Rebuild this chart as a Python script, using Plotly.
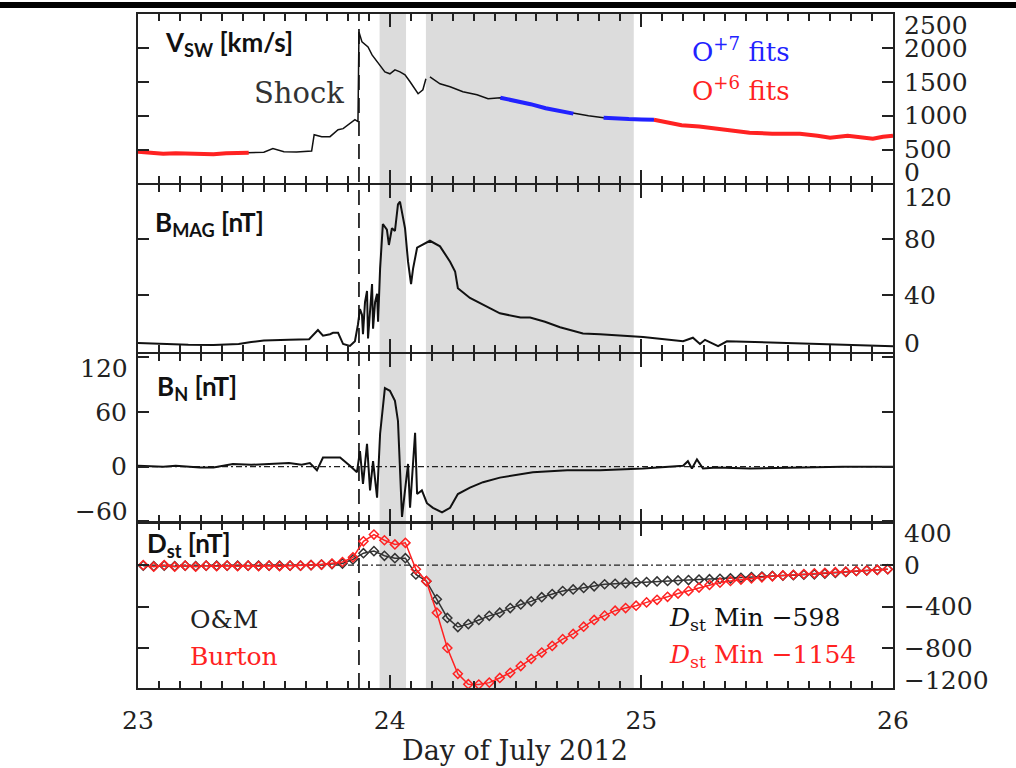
import plotly.graph_objects as go

# ---------------- data ----------------
v_time = [23.00, 23.05, 23.10, 23.15, 23.20, 23.25, 23.30, 23.35, 23.40, 23.44, 23.50, 23.536, 23.58, 23.63,
          23.68, 23.69, 23.70, 23.73, 23.763, 23.795, 23.815, 23.842, 23.862, 23.874, 23.878, 23.890, 23.902,
          23.914, 23.930, 23.942, 23.962, 23.981, 24.001, 24.021, 24.041, 24.061, 24.081, 24.093, 24.113,
          24.132, 24.144, 24.152, 24.160, 24.200, 24.240, 24.291, 24.347, 24.391, 24.44, 24.50, 24.56, 24.62,
          24.68, 24.73, 24.79, 24.85, 24.90, 24.95, 25.00, 25.05, 25.10, 25.16, 25.23, 25.30, 25.36, 25.43,
          25.52, 25.63, 25.70, 25.75, 25.82, 25.87, 25.92, 25.96, 26.00]
v_speed = [470, 460, 440, 445, 440, 445, 430, 445, 450, 455, 460, 515, 470, 465,
           470, 480, 720, 690, 691, 794, 809, 882, 941, 912, 2235, 2088, 2044,
           2015, 1897, 1838, 1750, 1647, 1618, 1676, 1647, 1603, 1500, 1426, 1324,
           1382, 1544, None, 1574, 1470, 1426, 1353, 1309, 1250, 1265, 1220, 1170, 1110,
           1070, 1030, 1000, 970, 955, 950, 945, 940, 900, 860, 840, 810, 790, 750,
           735, 735, 705, 675, 705, 680, 660, 690, 705]
o6_fit_ranges = [(23.00, 23.44), (25.05, 26.00)]
o7_fit_ranges = [(24.41, 24.73), (24.85, 25.05)]

b_time = [23.00, 23.10, 23.20, 23.30, 23.40, 23.45, 23.50, 23.60, 23.68, 23.715, 23.735, 23.763, 23.775, 23.795,
          23.815, 23.842, 23.862, 23.874, 23.882, 23.890, 23.894, 23.902, 23.910, 23.914, 23.922, 23.930, 23.934,
          23.942, 23.950, 23.954, 23.962, 23.973, 23.989, 23.997, 24.009, 24.021, 24.033, 24.041, 24.061, 24.073,
          24.085, 24.093, 24.109, 24.128, 24.160, 24.200, 24.240, 24.260, 24.271, 24.319, 24.399, 24.438, 24.52,
          24.558, 24.617, 24.677, 24.768, 24.836, 25.007, 25.166, 25.205, 25.233, 25.253, 25.305, 25.340, 25.45,
          25.630, 25.829, 26.00]
b_mag = [5.7, 5.0, 4.5, 4.3, 5.0, 6.5, 7.5, 8.0, 8.5, 15, 11, 12, 13, 13,
         5, 3.6, 7, 19, 30, 26, 12, 35, 43, 9, 30, 48, 16,
         35, 41, 21, 59, 91, 87, 76, 88, 86, 105, 107, 88, 64,
         48, 59, 74, 76, 79, 75, 64, 57, 45, 38, 31, 27, 24,
         24, 21, 17, 12.5, 12, 10, 7, 9.5, 5, 8, 3.5, 7, 6.5,
         5.7, 4.5, 3.5]

bn_time = [23.00, 23.10, 23.15, 23.246, 23.30, 23.377, 23.45, 23.513, 23.55, 23.60, 23.65, 23.683, 23.711,
           23.735, 23.763, 23.803, 23.842, 23.870, 23.882, 23.894, 23.910, 23.922, 23.934, 23.950, 23.962,
           23.973, 23.981, 24.001, 24.021, 24.033, 24.041, 24.049, 24.061, 24.073, 24.081, 24.101, 24.109,
           24.128, 24.148, 24.172, 24.208, 24.240, 24.271, 24.319, 24.371, 24.438, 24.569, 24.705, 24.836,
           25.007, 25.166, 25.185, 25.201, 25.221, 25.245, 25.30, 25.432, 25.630, 25.80, 26.00]
b_n = [1, 0, 1, -1, -1, 3, 2, 3, 3, 4, 2, 4, -4,
       10, 10, 10, 1, -6, 17, -19, 25, -26, 6, -34, 36,
       61, 86, 83, 72, 50, -12, -55, -26, 3, -45, 37, -30,
       -26, -40, -45, -50, -45, -30, -23, -17, -12, -6, -4, -4,
       -2, 1, 6, -2, 8, -2, -1, -2, -1, 0, 0]

# hourly Dst values (centred on the half hour), 23 July 00:30 .. 25 July 23:30
dst_time = [23 + (k + 0.5) / 24 for k in range(72)]
dst_om = [-5, -10, -5, -10, -5, -10, -5, -5, -5, -5, -5, -5, -5, -5, -5, -5, 0, 5,
          10, 15, 55, 115, 135, 90, 67, 67, -90, -155, -330, -510, -598, -570,
          -530, -490, -460, -415, -380, -350, -310, -280, -250, -235, -220, -205,
          -185, -180, -174, -168, -163, -158, -153, -148, -144, -140, -136, -132,
          -128, -122, -116, -111, -105, -101, -97, -93, -89, -82, -75, -66, -57, -50, -45, -40]
dst_burton = [0, -15, 0, -15, -5, -15, -5, -10, -5, -10, -5, -10, -5, -10, -5, -5, 0, 5,
              15, 30, 75, 230, 295, 240, 200, 215, -40, -155, -460, -800, -1050, -1150,
              -1154, -1135, -1090, -1040, -975, -905, -845, -780, -715, -665, -595, -530,
              -488, -440, -415, -392, -360, -335, -306, -275, -249, -217, -191, -169,
              -153, -140, -128, -118, -108, -100, -93, -86, -80, -74, -68, -63, -57, -52, -47, -40]

shade_start = [23.96, 24.144]
shade_end = [24.065, 24.97]
shock_time = 23.878

assert len(v_time) == len(v_speed)
assert len(b_time) == len(b_mag)
assert len(bn_time) == len(b_n)
assert len(dst_om) == 72 and len(dst_burton) == 72

# ---------------- geometry ----------------
W, H = 1016, 768
ML, MR, MT, MB = 138, 123, 12, 80
PW = W - ML - MR
PH = H - MT - MB


def px_x(x):
    return (x - ML) / PW


def px_y(y):
    return (H - MB - y) / PH


def dom(top, bot):
    return [px_y(bot), px_y(top)]


AX = "#222222"
SERIF = "DejaVu Serif"
SANS = "Lato"
RED = "#ff2222"
BLUE = "#2222ff"

fig = go.Figure()

# ---- panel 1: solar wind speed
fig.add_trace(go.Scatter(x=v_time, y=v_speed, mode="lines", line=dict(color="#111", width=1.5),
                         connectgaps=False, xaxis="x", yaxis="y", showlegend=False))
for ranges, col in ((o6_fit_ranges, RED), (o7_fit_ranges, BLUE)):
    for a, b in ranges:
        xs = [t for t, v in zip(v_time, v_speed) if a <= t <= b and v is not None]
        ys = [v for t, v in zip(v_time, v_speed) if a <= t <= b and v is not None]
        fig.add_trace(go.Scatter(x=xs, y=ys, mode="lines", line=dict(color=col, width=4),
                                 xaxis="x", yaxis="y", showlegend=False))

# ---- panel 2: |B|
fig.add_trace(go.Scatter(x=b_time, y=b_mag, mode="lines", line=dict(color="#111", width=2),
                         xaxis="x2", yaxis="y2", showlegend=False))
# ---- panel 3: BN
fig.add_trace(go.Scatter(x=bn_time, y=b_n, mode="lines", line=dict(color="#111", width=2),
                         xaxis="x3", yaxis="y3", showlegend=False))
# ---- panel 4: Dst
fig.add_trace(go.Scatter(x=dst_time, y=dst_om, mode="lines+markers",
                         line=dict(color="#333", width=1.5),
                         marker=dict(symbol="diamond-open", size=7, color="#333", line=dict(width=1.5)),
                         xaxis="x4", yaxis="y4", showlegend=False))
fig.add_trace(go.Scatter(x=dst_time, y=dst_burton, mode="lines+markers",
                         line=dict(color=RED, width=1.5),
                         marker=dict(symbol="diamond-open", size=7, color=RED, line=dict(width=1.5)),
                         xaxis="x4", yaxis="y4", showlegend=False))

# ---------------- axes ----------------
domains = [dom(12, 182), dom(184, 351), dom(353, 522), dom(523, 688)]
yranges = [[0, 2500], [-0.7, 118.6], [-61.1, 123.3], [-1187, 402]]
yticks = [([0, 500, 1000, 1500, 2000, 2500], ["", "500", "1000", "1500", "2000", ""]),
          ([0, 40, 80, 120], ["", "40", "80", ""]),
          ([-60, 0, 60, 120], ["", "0", "60", ""]),
          ([-1200, -800, -400, 0, 400], ["", "−800", "−400", "0", ""])]
yside = ["right", "right", "left", "right"]

layout = dict(width=W, height=H, margin=dict(l=ML, r=MR, t=MT, b=MB),
              paper_bgcolor="white", plot_bgcolor="rgba(0,0,0,0)", showlegend=False)
for i in range(4):
    sfx = "" if i == 0 else str(i + 1)
    layout["xaxis" + sfx] = dict(
        domain=[0, 1], range=[23, 26], anchor="y" + sfx, showgrid=False, zeroline=False,
        showline=True, linecolor=AX, linewidth=2, mirror="ticks",
        ticks="inside", ticklen=13, tickwidth=1.5, tickcolor=AX, tick0=23, dtick=1,
        minor=dict(ticks="inside", dtick=1 / 12, ticklen=7, tickwidth=1.5, tickcolor=AX),
        showticklabels=(i == 3), tickfont=dict(family=SERIF, size=25, color=AX),
        ticklabelstandoff=9,
    )
    layout["yaxis" + sfx] = dict(
        domain=domains[i], range=yranges[i], anchor="x" + sfx, side=yside[i], showgrid=False,
        zeroline=False, showline=True, linecolor=AX, linewidth=2, mirror="ticks",
        ticks="inside", ticklen=11, tickwidth=1.5, tickcolor=AX,
        tickmode="array", tickvals=yticks[i][0], ticktext=yticks[i][1],
        tickfont=dict(family=SERIF, size=25, color=AX), ticklabelstandoff=4,
    )
fig.update_layout(**layout)

# ---------------- shapes ----------------
shapes = []
for a, b in zip(shade_start, shade_end):
    shapes.append(dict(type="rect", xref="x", yref="paper", x0=a, x1=b, y0=0, y1=1,
                       fillcolor="#dcdcdc", line=dict(width=0), layer="below"))
shapes.append(dict(type="line", xref="x", yref="paper", x0=shock_time, x1=shock_time, y0=0, y1=1,
                   line=dict(color=AX, width=1.8, dash="15px,8px"), layer="below"))
for ya in ("y3", "y4"):
    shapes.append(dict(type="line", xref="paper", yref=ya, x0=0, x1=1, y0=0, y1=0,
                       line=dict(color=AX, width=1.3, dash="6px,3px,2px,3px"), layer="below"))
# black strip along the top of the picture
shapes.append(dict(type="rect", xref="paper", yref="paper", x0=px_x(0), x1=px_x(W), y0=px_y(6), y1=px_y(0),
                   fillcolor="black", line=dict(width=0), layer="above"))
fig.update_layout(shapes=shapes)

# ---------------- annotations ----------------
ann = []


def text(s, x, y, size=25, color="#111", family=SERIF, xanchor="left", yanchor="middle"):
    ann.append(dict(text=s, x=px_x(x), y=px_y(y), xref="paper", yref="paper", showarrow=False,
                    xanchor=xanchor, yanchor=yanchor, font=dict(family=family, size=size, color=color)))


# panel titles
text("<b>V<sub>SW</sub> [km/s]</b>", 163, 42, size=26, family=SANS)
text("<b>B<sub>MAG</sub> [nT]</b>", 153, 222, size=26, family=SANS)
text("<b>B<sub>N</sub> [nT]</b>", 155, 387, size=26, family=SANS)
text("<b>D<sub>st</sub> [nT]</b>", 145, 544, size=26, family=SANS)
# in-plot labels
text("Shock", 346, 91, size=29, color="#333", xanchor="right")
text("O<sup>+7</sup> fits", 690, 48, size=26, color=BLUE)
text("O<sup>+6</sup> fits", 690, 87, size=26, color=RED)
text("O&amp;M", 188, 619, size=25, color="#222")
text("Burton", 188, 656, size=25, color=RED)
text("<i>D</i><sub>st</sub> Min −598", 667, 619, size=25, color="#111")
text("<i>D</i><sub>st</sub> Min −1154", 667, 656, size=25, color=RED)
text("Day of July 2012", 515, 751, size=27, color="#222", xanchor="center")
# end-of-axis tick labels (placed inside the panel like the original)
for s, y in (("2500", 24), ("0", 171), ("120", 196), ("0", 342), ("400", 533), ("−1200", 680)):
    text(s, 902, y, size=25, color=AX)
for s, y in (("120", 368), ("−60", 511)):
    text(s, 130, y, size=25, color=AX, xanchor="right")
fig.update_layout(annotations=ann)

fig.write_html("out.html")
